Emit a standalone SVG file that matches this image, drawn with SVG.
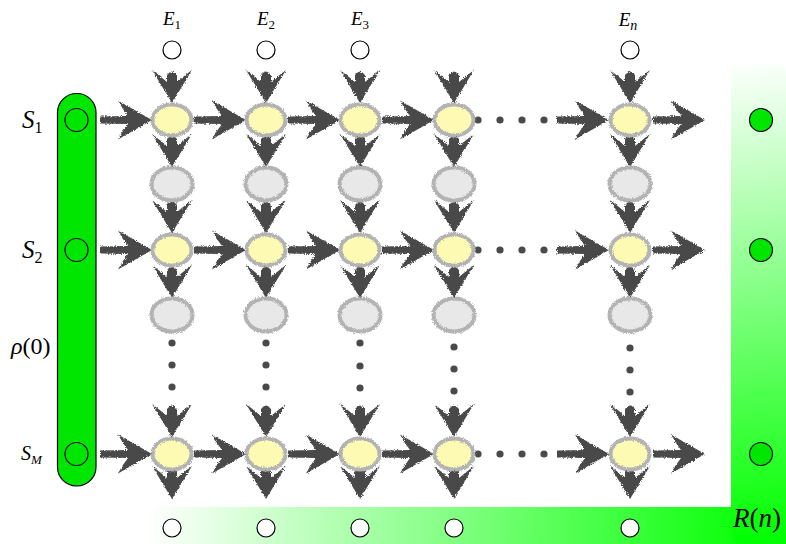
<svg xmlns="http://www.w3.org/2000/svg" xmlns:xlink="http://www.w3.org/1999/xlink" width="786" height="544" viewBox="0 0 786 544">
<style>
.lbl{font-family:"Liberation Serif","DejaVu Serif",serif;fill:#000}
.it{font-style:italic}
.arr{fill:#4a4a4a}
.dot{fill:#4a4a4a}
.node{fill:#fdfbb3;stroke:#b3b3b3;stroke-width:4}
.aux{fill:#e8e8e8;stroke:#b3b3b3;stroke-width:4}
.open{fill:#fff;stroke:#000;stroke-width:1.2}
.ring{fill:none;stroke:#000;stroke-width:1.2}
.gdot{fill:#00e600;stroke:#000;stroke-width:1.2}
</style>
<defs>
<filter id="chalk" x="-20%" y="-20%" width="140%" height="140%">
<feTurbulence type="fractalNoise" baseFrequency="0.9" numOctaves="2" seed="4" result="n"/>
<feDisplacementMap in="SourceGraphic" in2="n" scale="3.5" xChannelSelector="R" yChannelSelector="G"/>
</filter>
<linearGradient id="gV" gradientUnits="userSpaceOnUse" x1="735" y1="60" x2="790" y2="540">
<stop offset="0" stop-color="#ffffff"/>
<stop offset="1" stop-color="#00ff00"/>
</linearGradient>
<linearGradient id="gH" gradientUnits="userSpaceOnUse" x1="150" y1="505" x2="770" y2="545">
<stop offset="0" stop-color="#ffffff"/>
<stop offset="1" stop-color="#00ff00"/>
</linearGradient>
<path id="aH" d="M0,0 L-34,-19.5 Q-29,-10 -24,-4 L-52,-3.5 L-52,3.5 L-24,4 Q-29,10 -34,19.5 Z"/>
<path id="aV" d="M0,0 L-20,-33 Q-12,-27 -5,-21 L-5,-28 Q0,-35 5,-28 L5,-21 Q12,-27 20,-33 Z"/>
</defs>

<!-- output bars R(n) -->
<g id="output">
<rect x="148" y="507" width="660" height="60" rx="12" fill="url(#gH)"/>
<rect x="731" y="63" width="56" height="482" rx="12" fill="url(#gV)"/>
<circle class="gdot" cx="761" cy="120" r="11.5"/>
<circle class="gdot" cx="761" cy="250" r="11.5"/>
<circle class="gdot" cx="761" cy="454" r="11.5"/>
<circle class="open" cx="172" cy="528" r="9"/>
<circle class="open" cx="266" cy="528" r="9"/>
<circle class="open" cx="360" cy="528" r="9"/>
<circle class="open" cx="454" cy="528" r="9"/>
<circle class="open" cx="630" cy="528" r="9"/>
<text class="lbl" x="733" y="527" font-size="27"><tspan class="it">R</tspan>(<tspan class="it">n</tspan>)</text>
</g>

<!-- initial state rho(0) -->
<g id="rho0">
<rect x="57.5" y="93.5" width="38.5" height="392.5" rx="19" fill="#00e600" stroke="#000" stroke-width="1.2"/>
<circle class="ring" cx="76.5" cy="120" r="11.5"/>
<circle class="ring" cx="76.5" cy="250" r="11.5"/>
<circle class="ring" cx="76.5" cy="454" r="11.5"/>
<text class="lbl" x="22" y="128" font-size="25"><tspan class="it">S</tspan><tspan font-size="16" dy="5">1</tspan></text>
<text class="lbl" x="22" y="258" font-size="25"><tspan class="it">S</tspan><tspan font-size="16" dy="5">2</tspan></text>
<text class="lbl" x="11" y="354" font-size="24"><tspan class="it">ρ</tspan>(0)</text>
<text class="lbl" x="21" y="460" font-size="20"><tspan class="it">S</tspan><tspan class="it" font-size="13" dy="4">M</tspan></text>
</g>

<!-- environment inputs -->
<g id="env">
<circle class="open" cx="172" cy="50" r="9"/>
<circle class="open" cx="266" cy="50" r="9"/>
<circle class="open" cx="360" cy="50" r="9"/>
<circle class="open" cx="630" cy="50" r="9"/>
<text class="lbl" x="172" y="25" font-size="19" text-anchor="middle"><tspan class="it">E</tspan><tspan font-size="13" dy="4">1</tspan></text>
<text class="lbl" x="266" y="25" font-size="19" text-anchor="middle"><tspan class="it">E</tspan><tspan font-size="13" dy="4">2</tspan></text>
<text class="lbl" x="360" y="25" font-size="19" text-anchor="middle"><tspan class="it">E</tspan><tspan font-size="13" dy="4">3</tspan></text>
<text class="lbl" x="628" y="26" font-size="19" text-anchor="middle"><tspan class="it">E</tspan><tspan class="it" font-size="14" dy="4">n</tspan></text>
</g>

<!-- connectors -->
<g id="connectors" filter="url(#chalk)">
<g class="arr">
<use xlink:href="#aH" transform="translate(152,120)"/>
<use xlink:href="#aH" transform="translate(246,120)"/>
<use xlink:href="#aH" transform="translate(340,120)"/>
<use xlink:href="#aH" transform="translate(434,120)"/>
<use xlink:href="#aH" transform="translate(609,120)"/>
<use xlink:href="#aH" transform="translate(705,120)"/>
<use xlink:href="#aH" transform="translate(152,250)"/>
<use xlink:href="#aH" transform="translate(246,250)"/>
<use xlink:href="#aH" transform="translate(340,250)"/>
<use xlink:href="#aH" transform="translate(434,250)"/>
<use xlink:href="#aH" transform="translate(609,250)"/>
<use xlink:href="#aH" transform="translate(705,250)"/>
<use xlink:href="#aH" transform="translate(152,454)"/>
<use xlink:href="#aH" transform="translate(246,454)"/>
<use xlink:href="#aH" transform="translate(340,454)"/>
<use xlink:href="#aH" transform="translate(434,454)"/>
<use xlink:href="#aH" transform="translate(609,454)"/>
<use xlink:href="#aH" transform="translate(705,454)"/>
<use xlink:href="#aV" transform="translate(172,103)"/>
<use xlink:href="#aV" transform="translate(172,167)"/>
<use xlink:href="#aV" transform="translate(172,233)"/>
<use xlink:href="#aV" transform="translate(172,298)"/>
<use xlink:href="#aV" transform="translate(172,437)"/>
<use xlink:href="#aV" transform="translate(172,499)"/>
<use xlink:href="#aV" transform="translate(266,103)"/>
<use xlink:href="#aV" transform="translate(266,167)"/>
<use xlink:href="#aV" transform="translate(266,233)"/>
<use xlink:href="#aV" transform="translate(266,298)"/>
<use xlink:href="#aV" transform="translate(266,437)"/>
<use xlink:href="#aV" transform="translate(266,499)"/>
<use xlink:href="#aV" transform="translate(360,103)"/>
<use xlink:href="#aV" transform="translate(360,167)"/>
<use xlink:href="#aV" transform="translate(360,233)"/>
<use xlink:href="#aV" transform="translate(360,298)"/>
<use xlink:href="#aV" transform="translate(360,437)"/>
<use xlink:href="#aV" transform="translate(360,499)"/>
<use xlink:href="#aV" transform="translate(454,103)"/>
<use xlink:href="#aV" transform="translate(454,167)"/>
<use xlink:href="#aV" transform="translate(454,233)"/>
<use xlink:href="#aV" transform="translate(454,298)"/>
<use xlink:href="#aV" transform="translate(454,437)"/>
<use xlink:href="#aV" transform="translate(454,499)"/>
<use xlink:href="#aV" transform="translate(630,103)"/>
<use xlink:href="#aV" transform="translate(630,167)"/>
<use xlink:href="#aV" transform="translate(630,233)"/>
<use xlink:href="#aV" transform="translate(630,298)"/>
<use xlink:href="#aV" transform="translate(630,437)"/>
<use xlink:href="#aV" transform="translate(630,499)"/>
</g>
</g>
<g id="ellipsis-dots" class="dot">
<circle cx="478" cy="120" r="3.6"/><circle cx="500" cy="120" r="3.6"/><circle cx="522" cy="120" r="3.6"/><circle cx="544" cy="120" r="3.6"/>
<circle cx="478" cy="250" r="3.6"/><circle cx="500" cy="250" r="3.6"/><circle cx="522" cy="250" r="3.6"/><circle cx="544" cy="250" r="3.6"/>
<circle cx="478" cy="454" r="3.6"/><circle cx="500" cy="454" r="3.6"/><circle cx="522" cy="454" r="3.6"/><circle cx="544" cy="454" r="3.6"/>
<circle cx="172" cy="343" r="3.6"/><circle cx="172" cy="365" r="3.6"/><circle cx="172" cy="387" r="3.6"/>
<circle cx="266" cy="343" r="3.6"/><circle cx="266" cy="365" r="3.6"/><circle cx="266" cy="387" r="3.6"/>
<circle cx="360" cy="343" r="3.6"/><circle cx="360" cy="366" r="3.6"/><circle cx="360" cy="388" r="3.6"/>
<circle cx="454" cy="347" r="3.6"/><circle cx="454" cy="369" r="3.6"/><circle cx="454" cy="391" r="3.6"/>
<circle cx="630" cy="348" r="3.6"/><circle cx="630" cy="370" r="3.6"/><circle cx="630" cy="392" r="3.6"/>
</g>

<!-- system nodes -->
<g filter="url(#chalk)">
<g id="n-1-1"><ellipse class="node" cx="172" cy="120" rx="19.5" ry="15.5"/></g>
<g id="n-1-2"><ellipse class="node" cx="266" cy="120" rx="19.5" ry="15.5"/></g>
<g id="n-1-3"><ellipse class="node" cx="360" cy="120" rx="19.5" ry="15.5"/></g>
<g id="n-1-4"><ellipse class="node" cx="454" cy="120" rx="19.5" ry="15.5"/></g>
<g id="n-1-n"><ellipse class="node" cx="630" cy="120" rx="19.5" ry="15.5"/></g>
<g id="a-1-1"><ellipse class="aux" cx="172" cy="184" rx="20.5" ry="16.5"/></g>
<g id="a-1-2"><ellipse class="aux" cx="266" cy="184" rx="20.5" ry="16.5"/></g>
<g id="a-1-3"><ellipse class="aux" cx="360" cy="184" rx="20.5" ry="16.5"/></g>
<g id="a-1-4"><ellipse class="aux" cx="454" cy="184" rx="20.5" ry="16.5"/></g>
<g id="a-1-n"><ellipse class="aux" cx="630" cy="184" rx="20.5" ry="16.5"/></g>
<g id="n-2-1"><ellipse class="node" cx="172" cy="250" rx="19.5" ry="15.5"/></g>
<g id="n-2-2"><ellipse class="node" cx="266" cy="250" rx="19.5" ry="15.5"/></g>
<g id="n-2-3"><ellipse class="node" cx="360" cy="250" rx="19.5" ry="15.5"/></g>
<g id="n-2-4"><ellipse class="node" cx="454" cy="250" rx="19.5" ry="15.5"/></g>
<g id="n-2-n"><ellipse class="node" cx="630" cy="250" rx="19.5" ry="15.5"/></g>
<g id="a-2-1"><ellipse class="aux" cx="172" cy="315" rx="20.5" ry="16.5"/></g>
<g id="a-2-2"><ellipse class="aux" cx="266" cy="315" rx="20.5" ry="16.5"/></g>
<g id="a-2-3"><ellipse class="aux" cx="360" cy="315" rx="20.5" ry="16.5"/></g>
<g id="a-2-4"><ellipse class="aux" cx="454" cy="315" rx="20.5" ry="16.5"/></g>
<g id="a-2-n"><ellipse class="aux" cx="630" cy="315" rx="20.5" ry="16.5"/></g>
<g id="n-M-1"><ellipse class="node" cx="172" cy="454" rx="19.5" ry="15.5"/></g>
<g id="n-M-2"><ellipse class="node" cx="266" cy="454" rx="19.5" ry="15.5"/></g>
<g id="n-M-3"><ellipse class="node" cx="360" cy="454" rx="19.5" ry="15.5"/></g>
<g id="n-M-4"><ellipse class="node" cx="454" cy="454" rx="19.5" ry="15.5"/></g>
<g id="n-M-n"><ellipse class="node" cx="630" cy="454" rx="19.5" ry="15.5"/></g>
</g>
</svg>
